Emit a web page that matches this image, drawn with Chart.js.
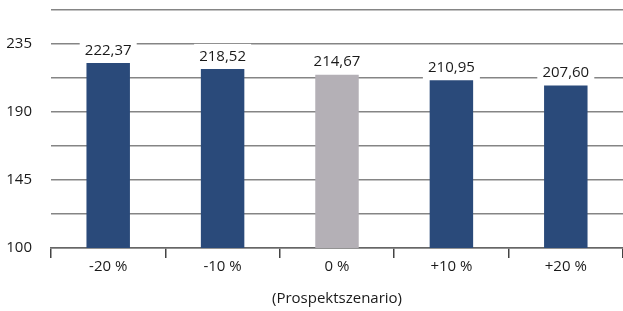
<!DOCTYPE html>
<html>
<head>
<meta charset="utf-8">
<script src="https://cdn.jsdelivr.net/npm/chart.js@4.4.0/dist/chart.umd.min.js"></script>
<style>
html,body{margin:0;padding:0;background:#fff;}
#wrap{width:623px;height:311px;position:relative;}
</style>
</head>
<body>
<div id="wrap"><canvas id="c" width="623" height="311"></canvas></div>
<script>
const categories = ['-20 %', '-10 %', '0 %', '+10 %', '+20 %'];
const values = [222.37, 218.52, 214.67, 210.95, 207.60];
const valueLabels = ['222,37', '218,52', '214,67', '210,95', '207,60'];
const barColors = ['#2a4a7a', '#2a4a7a', '#b4b0b6', '#2a4a7a', '#2a4a7a'];
const axisTitle = '(Prospektszenario)';
const yMin = 100, yMax = 257.5, yStep = 22.5;

const FONT = "'Open Sans', sans-serif";

const labelPlugin = {
  id: 'valueLabels',
  afterDatasetsDraw(chart) {
    const ctx = chart.ctx;
    const meta = chart.getDatasetMeta(0);
    ctx.save();
    meta.data.forEach((bar, i) => {
      const x = bar.x, top = bar.y;
      ctx.fillStyle = '#ffffff';
      ctx.fillRect(x - 28.5, top - 25, 57, 24);
      ctx.fillStyle = '#1a1a1a';
      ctx.font = "15px " + FONT;
      ctx.textAlign = 'center';
      ctx.textBaseline = 'middle';
      ctx.fillText(valueLabels[i], x, top - 12.5);
    });
    ctx.restore();
  }
};

new Chart(document.getElementById('c'), {
  type: 'bar',
  data: {
    labels: categories,
    datasets: [{
      data: values,
      backgroundColor: barColors,
      borderWidth: 0,
      categoryPercentage: 1.0,
      barPercentage: 0.38
    }]
  },
  options: {
    responsive: false,
    animation: false,
    layout: { padding: { top: 10, right: -3, bottom: 0, left: 0 } },
    plugins: { legend: { display: false }, tooltip: { enabled: false } },
    scales: {
      x: {
        afterFit: (s) => { s.height = 63; s.paddingLeft = 0; s.paddingRight = 0; },
        grid: { offset: true, drawOnChartArea: false, drawTicks: true, tickLength: 10, color: '#444444', lineWidth: 1.5 },
        border: { display: true, color: '#666666', width: 1.5 },
        ticks: { color: '#1a1a1a', font: { family: FONT, size: 15 }, padding: 0, maxRotation: 0 },
        title: { display: true, text: axisTitle, color: '#1a1a1a', font: { family: FONT, size: 15 }, padding: { top: 0, bottom: 3 } }
      },
      y: {
        min: yMin, max: yMax,
        afterFit: (s) => { s.width = 51; s.paddingTop = 0; s.paddingBottom = 0; },
        grid: { drawTicks: false, color: '#858585', lineWidth: 1.5 },
        border: { display: false },
        ticks: {
          stepSize: yStep,
          color: '#1a1a1a',
          font: { family: FONT, size: 15 },
          padding: 19,
          callback: (v) => (Math.round((v - yMin) / yStep) % 2 === 0 ? String(v) : '')
        }
      }
    }
  },
  plugins: [labelPlugin]
});
</script>
</body>
</html>
